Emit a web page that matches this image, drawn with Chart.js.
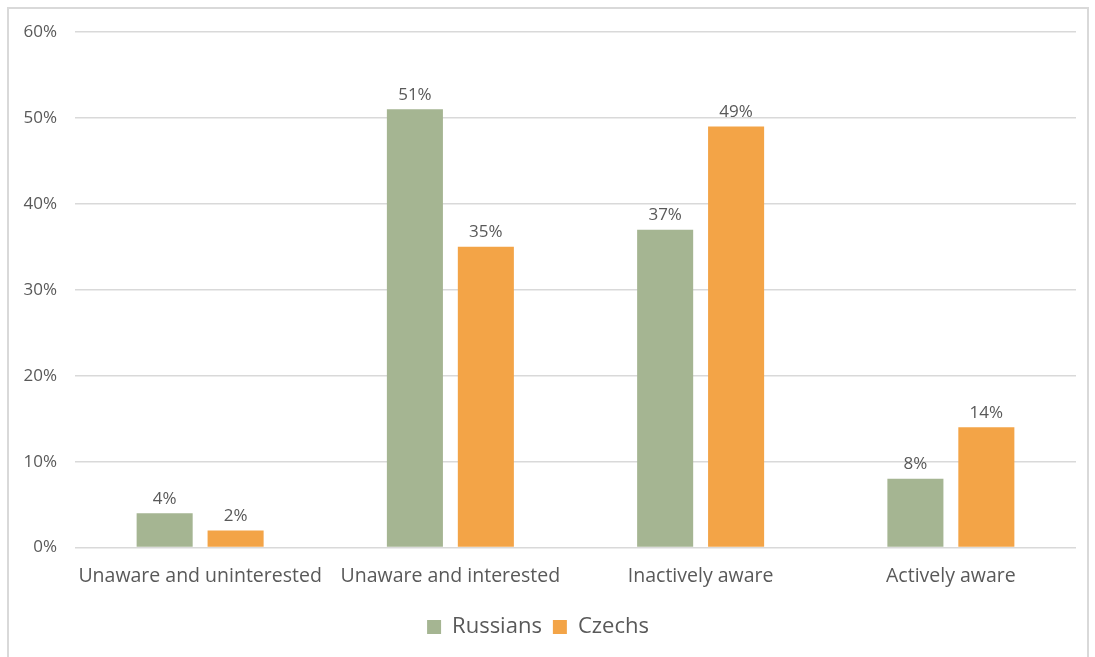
<!DOCTYPE html>
<html>
<head>
<meta charset="utf-8">
<script src="https://cdn.jsdelivr.net/npm/chart.js@4/dist/chart.umd.min.js"></script>
<style>
  html, body { margin: 0; padding: 0; background: #fff; }
  #wrap { position: relative; width: 1095px; height: 657px; }
  #frame { position: absolute; left: 7px; top: 7px; width: 1082px; height: 660px;
           border: 2px solid #d9d9d9; pointer-events: none; box-sizing: border-box; }
</style>
</head>
<body>
<div id="wrap">
  <canvas id="awarenessChart" width="1095" height="657"></canvas>
  <div id="frame"></div>
</div>
<script>
var categories = ["Unaware and uninterested", "Unaware and interested", "Inactively aware", "Actively aware"];
var russians = [4, 51, 37, 8];
var czechs = [2, 35, 49, 14];
var yTicks = [0, 10, 20, 30, 40, 50, 60];

var textColor = "#595959";
var fontFamily = "'Open Sans'";

// writes the percentage above each bar
var valueLabels = {
  id: "valueLabels",
  afterDatasetsDraw: function (chart) {
    var ctx = chart.ctx;
    ctx.save();
    ctx.font = "17px " + fontFamily;
    ctx.fillStyle = textColor;
    ctx.textAlign = "center";
    ctx.textBaseline = "bottom";
    chart.data.datasets.forEach(function (ds, i) {
      chart.getDatasetMeta(i).data.forEach(function (bar, j) {
        ctx.fillText(ds.data[j] + "%", bar.x, bar.y - 6);
      });
    });
    ctx.restore();
  }
};

var config = {
  type: "bar",
  data: {
    labels: categories,
    datasets: [
      { label: "Russians", data: russians, backgroundColor: "#A5B592" },
      { label: "Czechs", data: czechs, backgroundColor: "#F3A447" }
    ]
  },
  options: {
    responsive: false,
    animation: false,
    categoryPercentage: 0.567,
    barPercentage: 0.79,
    layout: { padding: { top: 32, right: 19, left: 0, bottom: 9 } },
    plugins: {
      tooltip: { enabled: false },
      legend: {
        position: "bottom",
        labels: {
          color: textColor,
          font: { family: fontFamily, size: 22 },
          boxWidth: 14,
          boxHeight: 14,
          padding: 11
        }
      }
    },
    scales: {
      x: {
        grid: { display: false, drawTicks: false },
        border: { display: false },
        ticks: {
          color: textColor,
          font: { family: fontFamily, size: 19.5 },
          padding: 17,
          maxRotation: 0,
          autoSkip: false
        }
      },
      y: {
        min: 0,
        max: 60,
        afterBuildTicks: function (scale) {
          scale.ticks = yTicks.map(function (v) { return { value: v }; });
        },
        afterFit: function (scale) { scale.width = 75; },
        grid: { color: "#d9d9d9", lineWidth: 1.5, drawTicks: false },
        border: { display: false },
        ticks: {
          color: textColor,
          font: { family: fontFamily, size: 17 },
          padding: 18,
          callback: function (v) { return v + "%"; }
        }
      }
    }
  },
  plugins: [valueLabels]
};

var myChart = new Chart(document.getElementById("awarenessChart"), config);
</script>
</body>
</html>
